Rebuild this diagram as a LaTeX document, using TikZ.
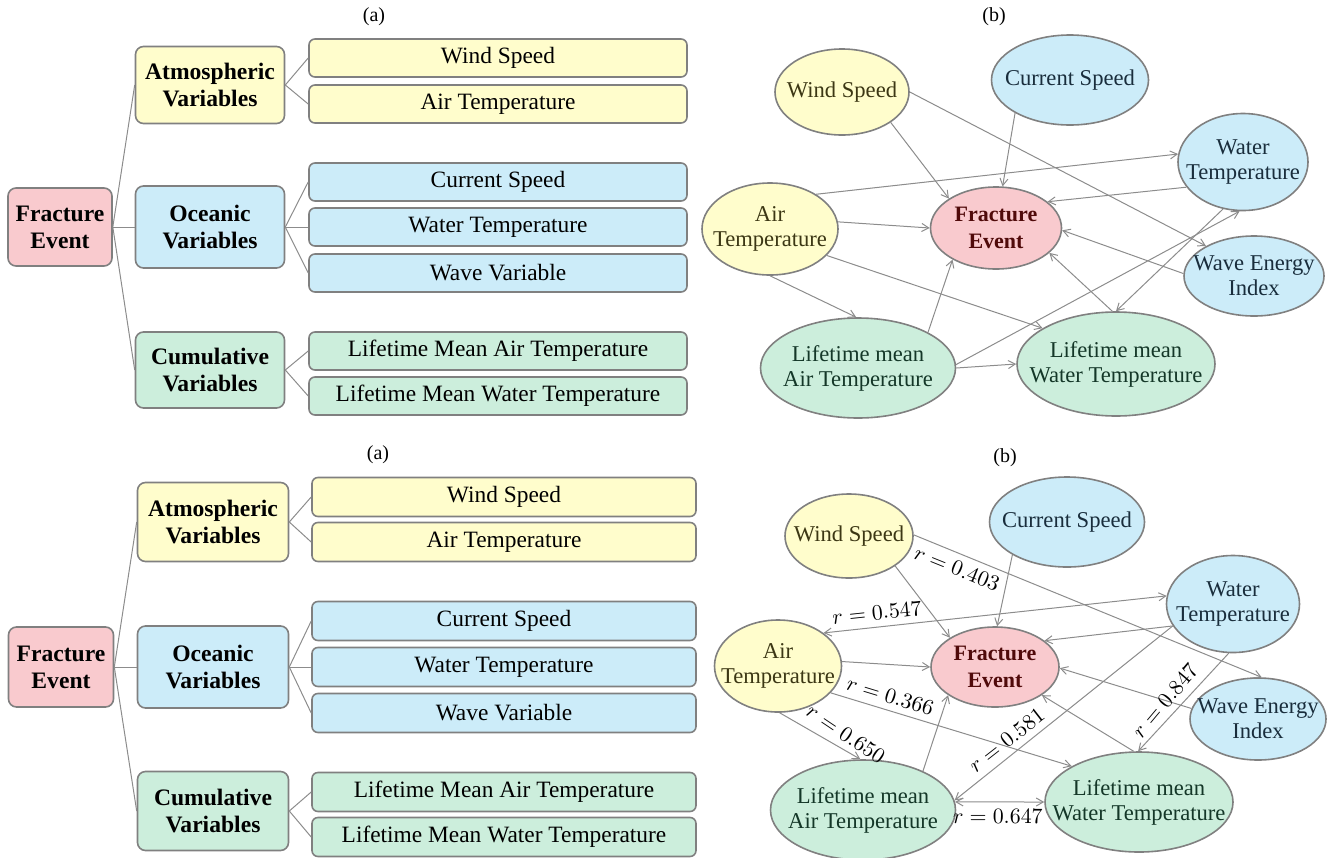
\documentclass[tikz,border=0pt]{standalone}
\usepackage{fontspec}
\setmainfont{Liberation Serif}
\usepackage{tikz}
\usetikzlibrary{arrows.meta, shapes.geometric}

\definecolor{atmfill}{RGB}{255,253,204}
\definecolor{oceanfill}{RGB}{204,236,249}
\definecolor{cumfill}{RGB}{204,238,220}
\definecolor{fracfill}{RGB}{249,202,206}
\definecolor{boxline}{RGB}{128,128,128}
\definecolor{linkline}{RGB}{140,140,140}
\definecolor{atmtext}{RGB}{60,55,20}
\definecolor{oceantext}{RGB}{25,45,60}
\definecolor{cumtext}{RGB}{20,55,40}
\definecolor{fractext}{RGB}{80,10,10}

\begin{document}
\begin{tikzpicture}[x=0.5pt,y=0.5pt,yscale=-1,xscale=1,
  treebox/.style={draw=boxline, line width=0.8pt, rounded corners=4pt, align=center, inner sep=0pt, font=\fontsize{11.8}{13.5}\selectfont\bfseries},
  leafbox/.style={draw=boxline, line width=0.8pt, rounded corners=3pt, minimum width=189pt, minimum height=19pt, inner sep=0pt, font=\fontsize{11.7}{13.5}\selectfont},
  varnode/.style={ellipse, draw=boxline, line width=0.8pt, inner sep=0pt},
  vartext/.style={align=center, inner sep=0pt, font=\fontsize{11.3}{12.5}\selectfont},
  fractitle/.style={align=center, inner sep=0pt, text=fractext, font=\fontsize{11}{13.5}\selectfont\bfseries},
  treeline/.style={draw=linkline, line width=0.5pt},
  link/.style={draw=linkline, line width=0.5pt, -{Straight Barb[length=3.5pt,width=4pt]}},
  twoway/.style={draw=linkline, line width=0.5pt, {Straight Barb[length=3.5pt,width=4pt]}-{Straight Barb[length=3.5pt,width=4pt]}},
  corr/.style={font=\fontsize{10.5}{11}\selectfont, inner sep=3.5pt, text=black},
  panel/.style={font=\fontsize{10}{12}\selectfont}
]
\useasboundingbox (0,0) rectangle (1338,857);

%% ---------- upper tree (a) ----------
\node[panel] (a1lbl) at (374,17) {(a)};
\node[treebox, fill=fracfill, minimum width=52pt, minimum height=39pt] (a1frac) at (60,227) {Fracture\\Event};
\node[treebox, fill=atmfill, minimum width=74.5pt, minimum height=38.5pt] (a1atm) at (210,85) {Atmospheric\\Variables};
\node[treebox, fill=oceanfill, minimum width=74.5pt, minimum height=41pt] (a1ocean) at (210,227) {Oceanic\\Variables};
\node[treebox, fill=cumfill, minimum width=74.5pt, minimum height=38pt] (a1cum) at (210,370) {Cumulative\\Variables};
% leaves
\node[leafbox, fill=atmfill] (a1ws) at (498,58) {Wind Speed};
\node[leafbox, fill=atmfill] (a1at) at (498,104) {Air Temperature};
\node[leafbox, fill=oceanfill] (a1cs) at (498,182) {Current Speed};
\node[leafbox, fill=oceanfill] (a1wt) at (498,227) {Water Temperature};
\node[leafbox, fill=oceanfill] (a1wv) at (498,273) {Wave Variable};
\node[leafbox, fill=cumfill] (a1lma) at (498,351) {Lifetime Mean Air Temperature};
\node[leafbox, fill=cumfill] (a1lmw) at (498,396) {Lifetime Mean Water Temperature};
% branches
\draw[treeline] (a1frac.east) -- (a1atm.west);
\draw[treeline] (a1frac.east) -- (a1ocean.west);
\draw[treeline] (a1frac.east) -- (a1cum.west);
\draw[treeline] (a1atm.east) -- (a1ws.west);
\draw[treeline] (a1atm.east) -- (a1at.west);
\draw[treeline] (a1ocean.east) -- (a1cs.west);
\draw[treeline] (a1ocean.east) -- (a1wt.west);
\draw[treeline] (a1ocean.east) -- (a1wv.west);
\draw[treeline] (a1cum.east) -- (a1lma.west);
\draw[treeline] (a1cum.east) -- (a1lmw.west);

%% ---------- upper network (b) ----------
\node[panel] (b1lbl) at (994,17) {(b)};
\node[varnode, fill=atmfill, minimum width=67pt, minimum height=43pt] (b1ws) at (842,92) {};
\node[varnode, fill=oceanfill, minimum width=78.5pt, minimum height=45pt] (b1cs) at (1070,80) {};
\node[varnode, fill=oceanfill, minimum width=65pt, minimum height=48.5pt] (b1wt) at (1243,162) {};
\node[varnode, fill=atmfill, minimum width=68pt, minimum height=46pt] (b1at) at (770,229) {};
\node[varnode, fill=fracfill, minimum width=65.5pt, minimum height=41pt] (b1frac) at (996,228) {};
\node[varnode, fill=oceanfill, minimum width=70pt, minimum height=40pt] (b1we) at (1254,276) {};
\node[varnode, fill=cumfill, minimum width=97.5pt, minimum height=50pt] (b1lma) at (858,368) {};
\node[varnode, fill=cumfill, minimum width=99pt, minimum height=52pt] (b1lmw) at (1116,364) {};
% texts
\node[vartext, text=atmtext] (b1wsT) at (b1ws) {Wind Speed};
\node[vartext, text=oceantext] (b1csT) at (b1cs) {Current Speed};
\node[vartext, text=oceantext] (b1wtT) at (b1wt) {Water\\Temperature};
\node[vartext, text=atmtext] (b1atT) at (b1at) {Air\\Temperature};
\node[fractitle] (b1fracT) at (b1frac) {Fracture\\Event};
\node[vartext, text=oceantext] (b1weT) at (b1we) {Wave Energy\\Index};
\node[vartext, text=cumtext] (b1lmaT) at (b1lma) {Lifetime mean\\Air Temperature};
\node[vartext, text=cumtext] (b1lmwT) at (b1lmw) {Lifetime mean\\Water Temperature};
% links
\draw[link] (b1ws.-32) -- (b1frac.148);
\draw[link] (b1ws.0) -- (b1we.148);
\draw[link] (b1cs.211) -- (b1frac.81);
\draw[link] (b1at.37) -- (b1wt.173);
\draw[link] (b1wt.204) -- (b1frac.27);
\draw[link] (b1at.6) -- (b1frac.180);
\draw[link] (b1we.178) -- (b1frac.-2);
\draw[link] (b1at.270) -- (b1lma.92);
\draw[link] (b1at.-25) -- (b1lmw.154);
\draw[link] (b1lma.27) -- (b1frac.216);
\draw[link] (b1lma.2) -- (b1wt.266);
\draw[link] (b1lma.0) -- (b1lmw.180);
\draw[link] (b1wt.247) -- (b1lmw.90);
\draw[link] (b1lmw.94) -- (b1frac.-25);

%% ---------- lower tree (a) ----------
\node[panel] (a2lbl) at (378,455) {(a)};
\node[treebox, fill=fracfill, minimum width=52.5pt, minimum height=40pt] (a2frac) at (61,667) {Fracture\\Event};
\node[treebox, fill=atmfill, minimum width=75.5pt, minimum height=39.5pt] (a2atm) at (213,522) {Atmospheric\\Variables};
\node[treebox, fill=oceanfill, minimum width=75.5pt, minimum height=41pt] (a2ocean) at (213,667) {Oceanic\\Variables};
\node[treebox, fill=cumfill, minimum width=75.5pt, minimum height=39.5pt] (a2cum) at (213,811) {Cumulative\\Variables};
% leaves
\node[leafbox, fill=atmfill, minimum width=192pt, minimum height=19.5pt] (a2ws) at (504,497) {Wind Speed};
\node[leafbox, fill=atmfill, minimum width=192pt, minimum height=19.5pt] (a2at) at (504,542) {Air Temperature};
\node[leafbox, fill=oceanfill, minimum width=192pt, minimum height=19.5pt] (a2cs) at (504,621) {Current Speed};
\node[leafbox, fill=oceanfill, minimum width=192pt, minimum height=19.5pt] (a2wt) at (504,667) {Water Temperature};
\node[leafbox, fill=oceanfill, minimum width=192pt, minimum height=19.5pt] (a2wv) at (504,713) {Wave Variable};
\node[leafbox, fill=cumfill, minimum width=192pt, minimum height=19.5pt] (a2lma) at (504,792) {Lifetime Mean Air Temperature};
\node[leafbox, fill=cumfill, minimum width=192pt, minimum height=19.5pt] (a2lmw) at (504,837) {Lifetime Mean Water Temperature};
% branches
\draw[treeline] (a2frac.east) -- (a2atm.west);
\draw[treeline] (a2frac.east) -- (a2ocean.west);
\draw[treeline] (a2frac.east) -- (a2cum.west);
\draw[treeline] (a2atm.east) -- (a2ws.west);
\draw[treeline] (a2atm.east) -- (a2at.west);
\draw[treeline] (a2ocean.east) -- (a2cs.west);
\draw[treeline] (a2ocean.east) -- (a2wt.west);
\draw[treeline] (a2ocean.east) -- (a2wv.west);
\draw[treeline] (a2cum.east) -- (a2lma.west);
\draw[treeline] (a2cum.east) -- (a2lmw.west);

%% ---------- lower network (b) with correlations ----------
\node[panel] (b2lbl) at (1005,458) {(b)};
\node[varnode, fill=atmfill, minimum width=64pt, minimum height=42pt] (b2ws) at (849,536) {};
\node[varnode, fill=oceanfill, minimum width=77.5pt, minimum height=45pt] (b2cs) at (1067,522) {};
\node[varnode, fill=oceanfill, minimum width=66.5pt, minimum height=48.5pt] (b2wt) at (1233,604) {};
\node[varnode, fill=atmfill, minimum width=63.5pt, minimum height=46pt] (b2at) at (778,666) {};
\node[varnode, fill=fracfill, minimum width=64pt, minimum height=40pt] (b2frac) at (995,667) {};
\node[varnode, fill=oceanfill, minimum width=68pt, minimum height=41pt] (b2we) at (1258,719) {};
\node[varnode, fill=cumfill, minimum width=92.5pt, minimum height=50pt] (b2lma) at (863,810) {};
\node[varnode, fill=cumfill, minimum width=94pt, minimum height=50pt] (b2lmw) at (1139,802) {};
% texts
\node[vartext, text=atmtext] (b2wsT) at (b2ws) {Wind Speed};
\node[vartext, text=oceantext] (b2csT) at (b2cs) {Current Speed};
\node[vartext, text=oceantext] (b2wtT) at (b2wt) {Water\\Temperature};
\node[vartext, text=atmtext] (b2atT) at (b2at) {Air\\Temperature};
\node[fractitle] (b2fracT) at (b2frac) {Fracture\\Event};
\node[vartext, text=oceantext] (b2weT) at (b2we) {Wave Energy\\Index};
\node[vartext, text=cumtext] (b2lmaT) at (b2lma) {Lifetime mean\\Air Temperature};
\node[vartext, text=cumtext] (b2lmwT) at (b2lmw) {Lifetime mean\\Water Temperature};
% links
\draw[link] (b2ws.-33) -- (b2frac.147);
\draw[link] (b2ws.1) -- node[corr, pos=0.14, rotate=-22, anchor=north] {$r = 0.403$} (b2we.85);
\draw[link] (b2cs.211) -- (b2frac.87);
\draw[twoway] (b2at.36) -- node[corr, pos=0.16, rotate=6, anchor=south] {$r = 0.547$} (b2wt.173);
\draw[link] (b2wt.200) -- (b2frac.28);
\draw[link] (b2at.4) -- (b2frac.180);
\draw[link] (b2we.171) -- (b2frac.-1);
\draw[link] (b2at.272) -- node[corr, pos=0.72, rotate=-34, anchor=south] {$r = 0.650$} (b2lma.93);
\draw[link] (b2at.-27) -- node[corr, pos=0.23, rotate=-17, anchor=south] {$r = 0.366$} (b2lmw.152);
\draw[link] (b2lma.33) -- (b2frac.211);
\draw[link] (b2wt.200) -- node[corr, pos=0.72, rotate=38, anchor=south] {$r = 0.581$} (b2lma.6);
\draw[twoway] (b2lma.5) -- node[corr, pos=0.48, anchor=north] {$r = 0.647$} (b2lmw.180);
\draw[link] (b2wt.265) -- node[corr, pos=0.58, rotate=50, anchor=south] {$r = 0.847$} (b2lmw.91);
\draw[link] (b2lmw.96) -- (b2frac.-31);
\end{tikzpicture}
\end{document}
